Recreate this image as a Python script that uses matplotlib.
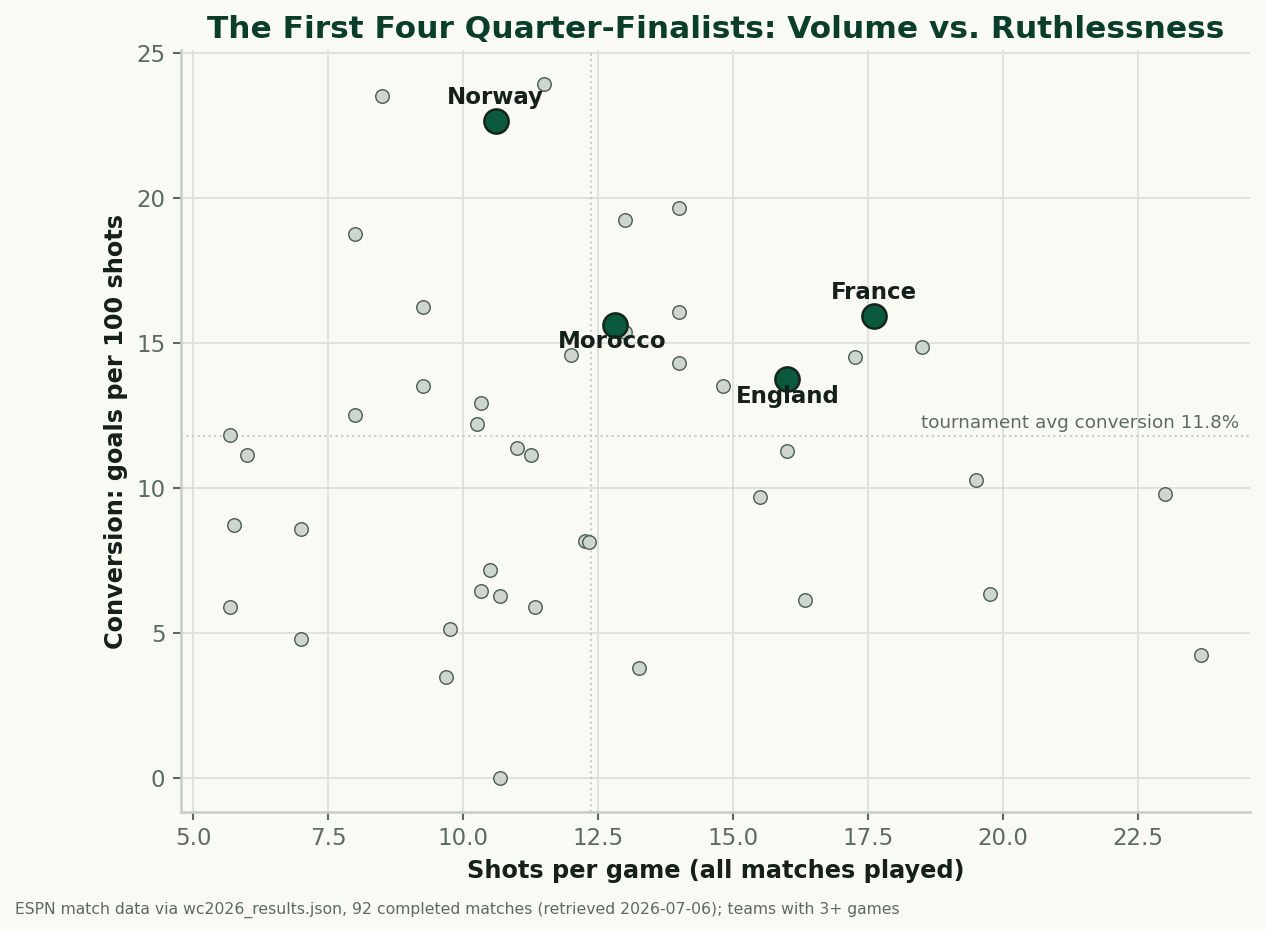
import matplotlib
matplotlib.use("Agg")
import matplotlib.pyplot as plt

# other teams (3+ games)
shots = [8.5, 11.5, 13.0, 14.0, 8.0, 9.25, 13.0, 14.0, 12.0, 14.0, 9.25, 10.33,
         8.0, 10.25, 5.67, 14.81, 17.26, 18.5, 16.0, 15.5, 19.5, 23.0, 16.33,
         19.75, 23.67, 6.0, 11.0, 11.25, 5.75, 7.0, 12.25, 12.33, 10.5, 10.33,
         10.67, 11.33, 5.67, 9.75, 7.0, 13.25, 9.67, 10.67]
conv = [23.53, 23.93, 19.24, 19.66, 18.76, 16.25, 15.38, 16.07, 14.59, 14.32,
        13.52, 12.94, 12.52, 12.21, 11.84, 13.52, 14.53, 14.87, 11.29, 9.69,
        10.28, 9.79, 6.14, 6.34, 4.24, 11.14, 11.38, 11.14, 8.72, 8.59, 8.18,
        8.14, 7.17, 6.47, 6.28, 5.90, 5.90, 5.14, 4.79, 3.79, 3.48, 0.0]

# the quarter-finalists
qf_teams = ['Norway', 'Morocco', 'France', 'England']
qf_shots = [10.6, 12.8, 17.6, 16.0]
qf_conv = [22.66, 15.63, 15.93, 13.76]
qf_offsets = [(0, 11.5), (-1, -8), (0, 11.5), (0, -8.5)]

avg_shots = 12.36
avg_conv = 11.8

bg = '#fafaf4'
dark = '#0a3d2a'
grey_txt = '#5b6b62'

fig = plt.figure(figsize=(1265 / 150, 931 / 150), dpi=150, facecolor=bg)
ax = fig.add_axes([0.1431, 0.1281, 0.9881 - 0.1431, 0.9459 - 0.1281])
ax.set_facecolor(bg)

ax.grid(True, color='#dfe2db', linewidth=0.9, zorder=0)
ax.set_axisbelow(True)

ax.axvline(avg_shots, color='#c8ccc6', linestyle=':', linewidth=1.0, zorder=1)
ax.axhline(avg_conv, color='#c8ccc6', linestyle=':', linewidth=1.0, zorder=1)

ax.scatter(shots, conv, s=42, color='#cfd6cf', edgecolor='#4f6157',
           linewidth=0.7, zorder=3)
ax.scatter(qf_shots, qf_conv, s=135, color='#0b5a3e', edgecolor='#15241c',
           linewidth=1.2, zorder=4)

for name, x, y, off in zip(qf_teams, qf_shots, qf_conv, qf_offsets):
    ax.annotate(name, (x, y), xytext=off, textcoords='offset points',
                ha='center', va='center', fontsize=11, fontweight='bold',
                color='#15201a', zorder=5)

ax.text(0.99, avg_conv + 0.15, 'tournament avg conversion 11.8%',
        transform=ax.get_yaxis_transform(), ha='right', va='bottom',
        fontsize=8.8, color=grey_txt)

ax.set_xlim(4.77, 24.57)
ax.set_ylim(-1.15, 25.1)

for s in ['top', 'right']:
    ax.spines[s].set_visible(False)
for s in ['left', 'bottom']:
    ax.spines[s].set_color('#c8ccc6')
    ax.spines[s].set_linewidth(1.2)
ax.tick_params(colors=grey_txt, labelsize=11, length=4, width=1)

ax.set_xlabel('Shots per game (all matches played)', fontsize=11.5,
              fontweight='bold', color='#15201a')
ax.set_ylabel('Conversion: goals per 100 shots', fontsize=11.5,
              fontweight='bold', color='#15201a')
ax.set_title('The First Four Quarter-Finalists: Volume vs. Ruthlessness',
             fontsize=15, fontweight='bold', color=dark, pad=6)

fig.text(0.012, 0.019,
         'ESPN match data via wc2026_results.json, 92 completed matches '
         '(retrieved 2026-07-06); teams with 3+ games',
         fontsize=7.5, color=grey_txt)

fig.savefig('out.png', dpi=150, facecolor=bg)
